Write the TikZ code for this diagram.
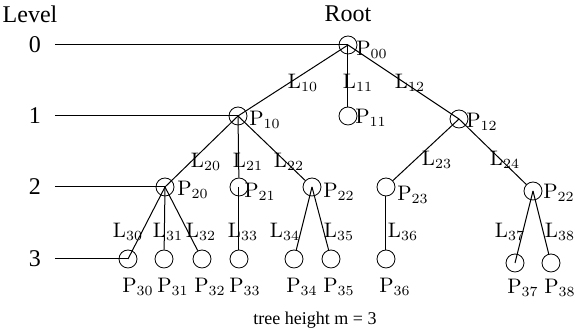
\documentclass[tikz,border=0pt]{standalone}
\usepackage{fontspec}
\newfontfamily\timesfont{Liberation Serif}
\usetikzlibrary{positioning}
\tikzset{
  pnode/.style={circle,draw,minimum size=9pt,inner sep=0pt},
  plabel/.style={font=\fontsize{10.5}{12}\selectfont,inner sep=0pt},
  lvtext/.style={font=\timesfont\fontsize{12}{14}\selectfont,inner sep=0pt},
  edge/.style={line width=0.5pt},
  levelline/.style={line width=0.5pt}
}

\begin{document}
\begin{tikzpicture}[x=0.5pt,y=-0.5pt]
  \useasboundingbox (0,0) rectangle (575,335);
  % level labels
  \node[lvtext] (level) at (30,14) {Level};
  \node[lvtext] (root) at (348,14) {Root};
  \node[lvtext] (l0) at (35,45) {0};
  \node[lvtext] (l1) at (35,116) {1};
  \node[lvtext] (l2) at (35,187) {2};
  \node[lvtext] (l3) at (35,259) {3};
  \coordinate (s0) at (55,45);
  \coordinate (s1) at (55,116);
  \coordinate (s2) at (55,187);
  \coordinate (s3) at (55,259);
  % nodes
  \node[pnode] (p00) at (348,45) {};
  \node[pnode] (p10) at (238,116) {};
  \node[pnode] (p11) at (348,116) {};
  \node[pnode] (p12) at (459,119) {};
  \node[pnode] (p20) at (165,187) {};
  \node[pnode] (p21) at (239,187) {};
  \node[pnode] (p22) at (312,187) {};
  \node[pnode] (p23) at (386,187) {};
  \node[pnode] (p2r) at (533,191) {};
  \node[pnode] (p30) at (128,259) {};
  \node[pnode] (p31) at (164,259) {};
  \node[pnode] (p32) at (202,259) {};
  \node[pnode] (p33) at (239,259) {};
  \node[pnode] (p34) at (294,259) {};
  \node[pnode] (p35) at (331,259) {};
  \node[pnode] (p36) at (386,259) {};
  \node[pnode] (p37) at (515,263) {};
  \node[pnode] (p38) at (551,263) {};
  % level lines
  \draw[levelline] (s0) -- (p00.center);
  \draw[levelline] (s1) -- (p10.center);
  \draw[levelline] (s2) -- (p20.center);
  \draw[levelline] (s3) -- (p30.center);
  % links
  \draw[edge] (p00.center) -- (p10.center);
  \draw[edge] (p00.center) -- (p11);
  \draw[edge] (p00.center) -- (p12.center);
  \draw[edge] (p10.center) -- (p20.center);
  \draw[edge] (p10.center) -- (p21);
  \draw[edge] (p10.center) -- (p22);
  \draw[edge] (p12.center) -- (p23);
  \draw[edge] (p12.center) -- (p2r);
  \draw[edge] (p20.center) -- (p30.center);
  \draw[edge] (p20.center) -- (p31);
  \draw[edge] (p20.center) -- (p32);
  \draw[edge] (p21.center) -- (p33);
  \draw[edge] (p22.center) -- (p34);
  \draw[edge] (p22.center) -- (p35);
  \draw[edge] (p23) -- (p36);
  \draw[edge] (p2r.center) -- (p37.center);
  \draw[edge] (p2r.center) -- (p38);
  % link labels
  \node[plabel] (t10) at (303,83) {L$_{10}$};
  \node[plabel] (t11) at (358,83) {L$_{11}$};
  \node[plabel] (t12) at (410,83) {L$_{12}$};
  \node[plabel] (t20) at (206,162) {L$_{20}$};
  \node[plabel] (t21) at (248,162) {L$_{21}$};
  \node[plabel] (t22) at (289,162) {L$_{22}$};
  \node[plabel] (t23) at (437,160) {L$_{23}$};
  \node[plabel] (t24) at (505,160) {L$_{24}$};
  \node[plabel] (t30) at (128,232) {L$_{30}$};
  \node[plabel] (t31) at (168,232) {L$_{31}$};
  \node[plabel] (t32) at (201,232) {L$_{32}$};
  \node[plabel] (t33) at (243,232) {L$_{33}$};
  \node[plabel] (t34) at (285,232) {L$_{34}$};
  \node[plabel] (t35) at (339,232) {L$_{35}$};
  \node[plabel] (t36) at (403,232) {L$_{36}$};
  \node[plabel] (t37) at (510,232) {L$_{37}$};
  \node[plabel] (t38) at (560,232) {L$_{38}$};
  % node labels
  \node[plabel] (n00) at (372,50) {P$_{00}$};
  \node[plabel] (n10) at (265,120) {P$_{10}$};
  \node[plabel] (n11) at (371,118) {P$_{11}$};
  \node[plabel] (n12) at (482,122) {P$_{12}$};
  \node[plabel] (n20) at (193,190) {P$_{20}$};
  \node[plabel] (n21) at (260,192) {P$_{21}$};
  \node[plabel] (n22) at (339,192) {P$_{22}$};
  \node[plabel] (n23) at (413,195) {P$_{23}$};
  \node[plabel] (n2r) at (559,193) {P$_{22}$};
  \node[plabel] (n30) at (138,287) {P$_{30}$};
  \node[plabel] (n31) at (173,287) {P$_{31}$};
  \node[plabel] (n32) at (210,287) {P$_{32}$};
  \node[plabel] (n33) at (245,287) {P$_{33}$};
  \node[plabel] (n34) at (302,287) {P$_{34}$};
  \node[plabel] (n35) at (339,287) {P$_{35}$};
  \node[plabel] (n36) at (395,287) {P$_{36}$};
  \node[plabel] (n37) at (523,288) {P$_{37}$};
  \node[plabel] (n38) at (560,288) {P$_{38}$};
  \node[font=\timesfont\fontsize{9}{11}\selectfont] (caption) at (315,320) {tree height m = 3};
\end{tikzpicture}
\end{document}
